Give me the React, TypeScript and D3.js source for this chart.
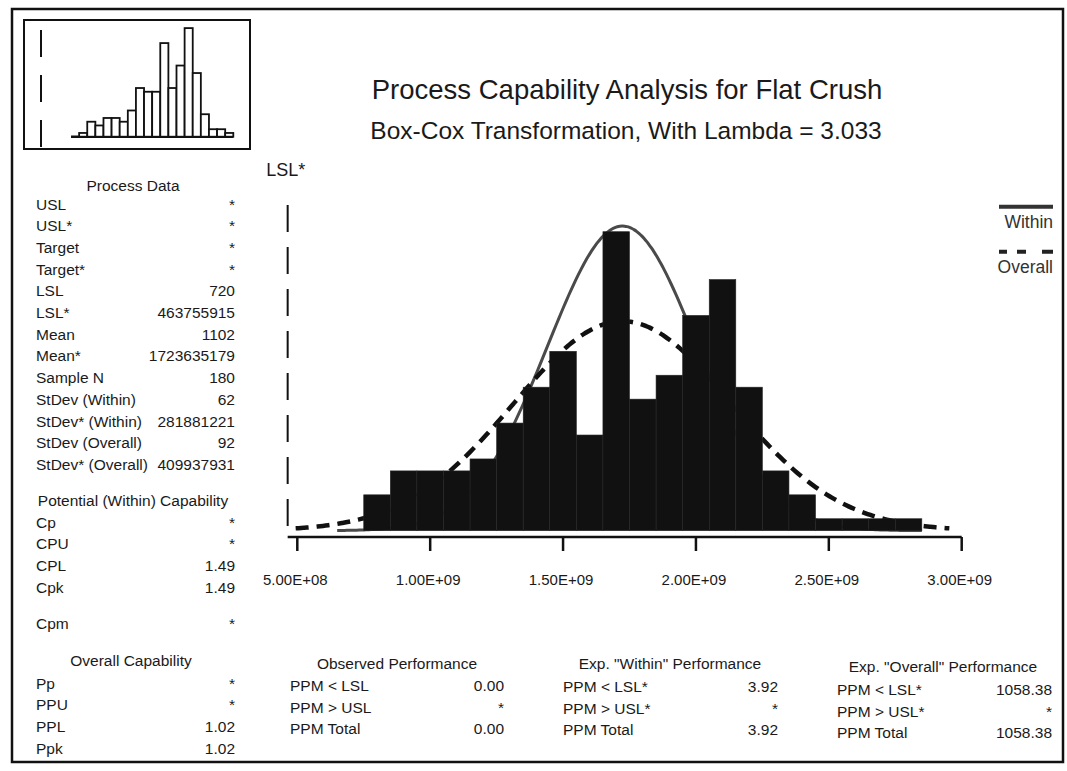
import React from 'react';
import * as d3 from 'd3';

// transformed data histogram (bin mids in units of 1e8)
const binMids = [7, 8, 9, 10, 11, 12, 13, 14, 15, 16, 17, 18, 19, 20, 21, 22, 23, 24, 25, 26, 27, 28];
const binCounts = [0, 3, 5, 5, 5, 6, 9, 12, 15, 8, 25, 11, 13, 18, 21, 12, 5, 3, 1, 1, 1, 1];

// original data histogram (thumbnail)
const thumbMids = [850, 875, 900, 925, 950, 975, 1000, 1025, 1050, 1075, 1100, 1125, 1150, 1175, 1200, 1225, 1250, 1275, 1300];
const thumbCounts = [1, 4, 3, 5, 5, 4, 7, 13, 12, 12, 25, 13, 19, 29, 17, 6, 2, 2, 1];

const lslRaw = 720;
const lslT = 463755915;
const meanT = 1723635179;
const sdWithinT = 281881221;
const sdOverallT = 409937931;
const sampleN = 180;

const tickValues = [5e8, 1e9, 1.5e9, 2e9, 2.5e9, 3e9];
const tickLabels = ['5.00E+08', '1.00E+09', '1.50E+09', '2.00E+09', '2.50E+09', '3.00E+09'];

const processLabels = ['USL', 'USL*', 'Target', 'Target*', 'LSL', 'LSL*', 'Mean', 'Mean*', 'Sample N',
  'StDev (Within)', 'StDev* (Within)', 'StDev (Overall)', 'StDev* (Overall)'];
const processValues = ['*', '*', '*', '*', '720', '463755915', '1102', '1723635179', '180',
  '62', '281881221', '92', '409937931'];
const potentialLabels = ['Cp', 'CPU', 'CPL', 'Cpk'];
const potentialValues = ['*', '*', '1.49', '1.49'];
const cpmValue = '*';
const overallLabels = ['Pp', 'PPU', 'PPL', 'Ppk'];
const overallValues = ['*', '*', '1.02', '1.02'];

const observedLabels = ['PPM < LSL', 'PPM > USL', 'PPM Total'];
const observedValues = ['0.00', '*', '0.00'];
const expLabels = ['PPM < LSL*', 'PPM > USL*', 'PPM Total'];
const expWithinValues = ['3.92', '*', '3.92'];
const expOverallValues = ['1058.38', '*', '1058.38'];

const FONT = '"Liberation Sans", Arial, sans-serif';
const INK = '#1a1a1a';

const W = 1067, H = 771;

function normalCount(x: number, mu: number, sd: number) {
  // expected count per bin (bin width 1e8)
  return sampleN * 1e8 * Math.exp(-0.5 * ((x - mu) / sd) ** 2) / (Math.sqrt(2 * Math.PI) * sd);
}

function Table({ labels, values, x0, x1, y0, step, size = 15.5 }: any) {
  return (
    <g>
      {labels.map((l: string, i: number) => (
        <g key={l + i}>
          <text x={x0} y={y0 + i * step} fontSize={size}>{l}</text>
          <text x={x1} y={y0 + i * step} fontSize={size} textAnchor="end">{values[i]}</text>
        </g>
      ))}
    </g>
  );
}

export default function App() {
  const x = d3.scaleLinear().domain([5e8, 3e9]).range([297.3, 961.7]);
  const y = d3.scaleLinear().domain([0, 26]).range([530.7, 530.7 - 26 * 11.96]);

  const bw = 1e8;
  const mkCurve = (lo: number, hi: number, sd: number) =>
    d3.line<[number, number]>().x(d => x(d[0])).y(d => y(d[1])).curve(d3.curveBasis)(
      d3.range(0, 241).map(i => {
        const v = lo + ((hi - lo) * i) / 240;
        return [v, normalCount(v, meanT, sd)] as [number, number];
      })
    );
  const withinPath = mkCurve((binMids[0] - 0.5) * bw, (binMids[binMids.length - 1] + 0.5) * bw, sdWithinT);
  const overallPath = mkCurve(meanT - 3 * sdOverallT, meanT + 3 * sdOverallT, sdOverallT);

  const axisY = 537;

  // thumbnail scales
  const tx = d3.scaleLinear().domain([lslRaw, 1312.5]).range([41, 233.3]);
  const ty = d3.scaleLinear().domain([0, 30]).range([136.7, 136.7 - 30 * 3.745]);
  const tbw = 25;

  const rowStep = 21.7;

  return (
    <div>
      <style>{`body{margin:0;background:#fff}`}</style>
      <svg width={W} height={H} viewBox={`0 0 ${W} ${H}`} style={{ display: 'block', background: '#fff' }}
        fontFamily={FONT} fill={INK}>
        {/* outer frame */}
        <rect x={12} y={9} width={1051} height={753} fill="none" stroke="#111" strokeWidth={2.5} />

        {/* thumbnail */}
        <rect x={24} y={20} width={226} height={129} fill="none" stroke="#111" strokeWidth={2} />
        <line x1={tx(lslRaw)} x2={tx(lslRaw)} y1={30} y2={148} stroke="#111" strokeWidth={2} strokeDasharray="27,18" />
        <line x1={tx(thumbMids[0] - 1.5 * tbw)} x2={tx(thumbMids[thumbMids.length - 1] + tbw / 2)}
          y1={ty(0)} y2={ty(0)} stroke="#111" strokeWidth={2.5} />
        {thumbMids.map((m, i) => (
          <rect key={m} x={tx(m - tbw / 2)} y={ty(thumbCounts[i])} width={tx(m + tbw / 2) - tx(m - tbw / 2)}
            height={ty(0) - ty(thumbCounts[i])} fill="#fff" stroke="#111" strokeWidth={1.8} />
        ))}

        {/* titles */}
        <text x={627} y={99} fontSize={27.5} textAnchor="middle">Process Capability Analysis for Flat Crush</text>
        <text x={626} y={139} fontSize={24.5} textAnchor="middle">Box-Cox Transformation, With Lambda = 3.033</text>
        <text x={x(lslT) - 2} y={176} fontSize={18} textAnchor="middle">LSL*</text>

        {/* left panel */}
        <text x={133} y={190.5} fontSize={15.5} textAnchor="middle">Process Data</text>
        <Table labels={processLabels} values={processValues} x0={36} x1={235} y0={209.5} step={rowStep} />
        <text x={133} y={505.5} fontSize={15.5} textAnchor="middle">Potential (Within) Capability</text>
        <Table labels={potentialLabels} values={potentialValues} x0={36} x1={235} y0={527.5} step={rowStep} />
        <text x={36} y={628.5} fontSize={15.5}>Cpm</text>
        <text x={235} y={628.5} fontSize={15.5} textAnchor="end">{cpmValue}</text>
        <text x={131} y={665.5} fontSize={15.5} textAnchor="middle">Overall Capability</text>
        <Table labels={overallLabels} values={overallValues} x0={36} x1={235} y0={688.5} step={rowStep} />

        {/* LSL* reference line */}
        <line x1={x(lslT)} x2={x(lslT)} y1={205} y2={axisY} stroke="#111" strokeWidth={2} strokeDasharray="27,15" />

        {/* fitted curves (behind the bars) */}
        <path d={withinPath || ''} fill="none" stroke="#4a4a4a" strokeWidth={3} />
        <path d={overallPath || ''} fill="none" stroke="#111" strokeWidth={4.5} strokeDasharray="13,8" />

        {/* histogram */}
        {binMids.map((m, i) => (
          <rect key={m} x={x((m - 0.5) * bw)} y={y(binCounts[i])} width={x((m + 0.5) * bw) - x((m - 0.5) * bw)}
            height={y(0) - y(binCounts[i])} fill="#111" stroke="#262626" strokeWidth={0.6} />
        ))}

        {/* x axis */}
        <line x1={x(lslT)} x2={x(3e9)} y1={axisY} y2={axisY} stroke="#111" strokeWidth={2.5} />
        {tickValues.map((t, i) => (
          <g key={t}>
            <line x1={x(t)} x2={x(t)} y1={axisY} y2={axisY + 14} stroke="#111" strokeWidth={2.5} />
            <text x={x(t) - 2} y={585} fontSize={15} textAnchor="middle">{tickLabels[i]}</text>
          </g>
        ))}

        {/* legend */}
        <line x1={999} x2={1053} y1={206.7} y2={206.7} stroke="#333" strokeWidth={4} />
        <text x={1053} y={228.3} fontSize={17.5} textAnchor="end" fill="#333">Within</text>
        <line x1={999} x2={1053} y1={251.7} y2={251.7} stroke="#222" strokeWidth={4} strokeDasharray="8,10,9,16,11" />
        <text x={1053} y={273.3} fontSize={17.5} textAnchor="end" fill="#333">Overall</text>

        {/* bottom performance tables */}
        <text x={397} y={668.5} fontSize={15.5} textAnchor="middle">Observed Performance</text>
        <Table labels={observedLabels} values={observedValues} x0={290} x1={504} y0={691} step={21.5} />
        <text x={670} y={669} fontSize={15.5} textAnchor="middle">Exp. "Within" Performance</text>
        <Table labels={expLabels} values={expWithinValues} x0={563} x1={778} y0={692} step={21.5} />
        <text x={943} y={672} fontSize={15.5} textAnchor="middle">Exp. "Overall" Performance</text>
        <Table labels={expLabels} values={expOverallValues} x0={837} x1={1052} y0={695} step={21.5} />
      </svg>
    </div>
  );
}
